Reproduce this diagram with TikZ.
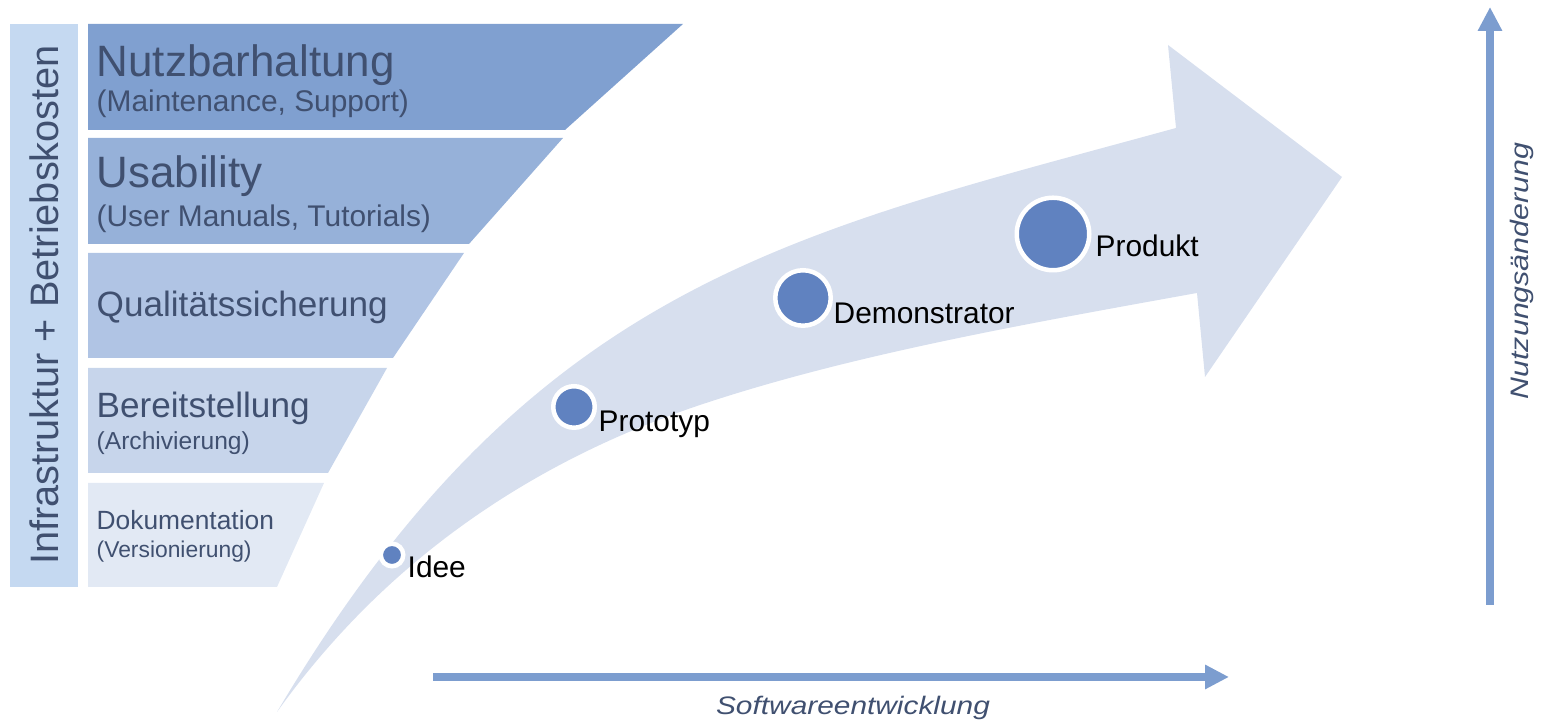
\documentclass[tikz,border=0pt]{standalone}
\usepackage{fontspec}
\setmainfont{Liberation Sans}
\usepackage{graphicx}
\usepackage{tikz}
\usetikzlibrary{arrows.meta}

\definecolor{sidecolor}{RGB}{197,217,241}
\definecolor{nutzcolor}{RGB}{128,160,208}
\definecolor{usabcolor}{RGB}{150,177,217}
\definecolor{qualcolor}{RGB}{176,196,228}
\definecolor{bereitcolor}{RGB}{199,213,235}
\definecolor{dokucolor}{RGB}{226,233,244}
\definecolor{bandcolor}{RGB}{215,223,238}
\definecolor{dotcolor}{RGB}{96,130,192}
\definecolor{axiscolor}{RGB}{124,157,207}
\definecolor{slatetext}{RGB}{64,80,112}

\begin{document}
\begin{tikzpicture}[
				 headnode/.style={anchor=base west, text=slatetext, inner sep=0pt, font=\fontsize{12.5}{14}\selectfont},
				 midnode/.style={anchor=base west, text=slatetext, inner sep=0pt, font=\fontsize{10}{12}\selectfont},
				 subnode/.style={anchor=base west, text=slatetext, inner sep=0pt},
				 dotnode/.style={circle, fill=dotcolor, draw=white, line width=0.45mm, inner sep=0pt},
				 stepnode/.style={anchor=base west, text=black, inner sep=0pt, font=\fontsize{8.5}{10}\selectfont},
				 axislabel/.style={text=slatetext, inner sep=0pt, font=\fontsize{7.2}{9}\selectfont\itshape},
				 axisarrow/.style={draw=axiscolor, line width=0.75mm, -{Triangle[length=2.4mm, width=2.3mm]}},
				 ]
				 \useasboundingbox (0, 0) rectangle (15.47, 7.23);

				 % Cost bar and stripes
				 \fill[sidecolor]   (0.10, 1.36) rectangle (0.78, 6.99);
				 \fill[nutzcolor]   (0.88, 6.99) -- (6.83, 6.99) -- (5.65, 5.93) -- (0.88, 5.93) -- cycle;
				 \fill[usabcolor]   (0.88, 5.85) -- (5.63, 5.85) -- (4.69, 4.79) -- (0.88, 4.79) -- cycle;
				 \fill[qualcolor]   (0.88, 4.70) -- (4.64, 4.70) -- (3.93, 3.65) -- (0.88, 3.65) -- cycle;
				 \fill[bereitcolor] (0.88, 3.55) -- (3.87, 3.55) -- (3.28, 2.50) -- (0.88, 2.50) -- cycle;
				 \fill[dokucolor]   (0.88, 2.40) -- (3.24, 2.40) -- (2.77, 1.36) -- (0.88, 1.36) -- cycle;

				 % Curved arrow
				 \fill[bandcolor] (2.77, 0.11) .. controls (5.32, 4.41) and (7.90, 4.89) .. (11.76, 5.95)
				 	-- (11.68, 6.78) -- (13.42, 5.46) -- (12.05, 3.46) -- (11.97, 4.30)
				 	.. controls (10.20, 3.98) and (8.50, 3.68) .. (7.00, 3.18)
				 	.. controls (5.60, 2.71) and (4.00, 1.83) .. (2.77, 0.11) -- cycle;

				 % Nodes
				 \node[rotate=90, text=slatetext, font=\fontsize{11.3}{13}\selectfont] (infra_level0) at (0.44, 4.18) {Infrastruktur + Betriebskosten};
				 \node[headnode]                                          (nutzbar_level1)   at (0.96, 6.46)  {Nutzbarhaltung};
				 \node[subnode, font=\fontsize{8.5}{10}\selectfont]     (maint_level1)     at (0.96, 6.11)  {(Maintenance, Support)};
				 \node[headnode]                                          (usab_level2)      at (0.96, 5.35)  {Usability};
				 \node[subnode, font=\fontsize{8.5}{10}\selectfont]     (manuals_level2)   at (0.96, 4.96)  {(User Manuals, Tutorials)};
				 \node[midnode]                                           (qual_level3)      at (0.96, 4.06)  {Qualitätssicherung};
				 \node[midnode]                                           (bereit_level4)    at (0.96, 3.05)  {Bereitstellung};
				 \node[subnode, font=\fontsize{7}{9}\selectfont]        (archiv_level4)    at (0.96, 2.73)  {(Archivierung)};
				 \node[subnode, font=\fontsize{7.5}{9}\selectfont]      (doku_level5)      at (0.96, 1.93)  {Dokumentation};
				 \node[subnode, font=\fontsize{6.5}{8}\selectfont]      (version_level5)   at (0.96, 1.65)  {(Versionierung)};

				 \node[dotnode, minimum size=2.25mm]  (idee_dot)      at (3.92, 1.68)   {};
				 \node[dotnode, minimum size=4.15mm]  (prototyp_dot)  at (5.74, 3.16)   {};
				 \node[dotnode, minimum size=5.55mm]  (demo_dot)      at (8.03, 4.25)   {};
				 \node[dotnode, minimum size=7.25mm]  (produkt_dot)   at (10.53, 4.89)  {};
				 \node[stepnode]                      (idee_text)     at (4.07, 1.45)   {Idee};
				 \node[stepnode]                      (prototyp_text) at (5.98, 2.91)   {Prototyp};
				 \node[stepnode]                      (demo_text)     at (8.33, 3.99)   {Demonstrator};
				 \node[stepnode]                      (produkt_text)  at (10.95, 4.66)  {Produkt};

				 \coordinate (dev_start) at (4.33, 0.46);
				 \coordinate (dev_end)   at (12.29, 0.46);
				 \coordinate (use_start) at (14.90, 1.18);
				 \coordinate (use_end)   at (14.90, 7.16);
				 \node[axislabel, anchor=base]  (dev_label) at (8.53, 0.08)  {\scalebox{1.18}[1]{Softwareentwicklung}};
				 \node[axislabel, rotate=90]    (use_label) at (15.22, 4.52) {\scalebox{1.2}[1]{Nutzungsänderung}};

				 % Lines
				 \draw[axisarrow] (dev_start) -- (dev_end);
				 \draw[axisarrow] (use_start) -- (use_end);
\end{tikzpicture}
\end{document}
